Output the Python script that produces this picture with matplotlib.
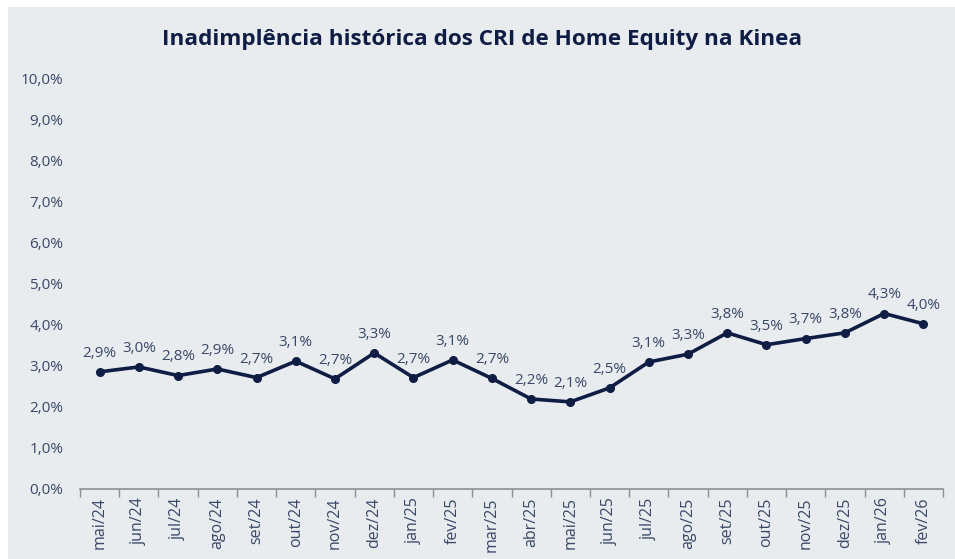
import matplotlib
matplotlib.use("Agg")
import matplotlib.pyplot as plt
from matplotlib.patches import Rectangle
import numpy as np

categories = ["mai/24", "jun/24", "jul/24", "ago/24", "set/24", "out/24", "nov/24", "dez/24",
              "jan/25", "fev/25", "mar/25", "abr/25", "mai/25", "jun/25", "jul/25", "ago/25",
              "set/25", "out/25", "nov/25", "dez/25", "jan/26", "fev/26"]
values = [2.85, 2.97, 2.76, 2.92, 2.71, 3.11, 2.68, 3.31, 2.71, 3.14, 2.69, 2.19, 2.12, 2.46,
          3.09, 3.28, 3.80, 3.51, 3.66, 3.80, 4.27, 4.02]
labels = ["2,9%", "3,0%", "2,8%", "2,9%", "2,7%", "3,1%", "2,7%", "3,3%", "2,7%", "3,1%", "2,7%",
          "2,2%", "2,1%", "2,5%", "3,1%", "3,3%", "3,8%", "3,5%", "3,7%", "3,8%", "4,3%", "4,0%"]
yticks = [0, 1, 2, 3, 4, 5, 6, 7, 8, 9, 10]
ytick_labels = ["0,0%", "1,0%", "2,0%", "3,0%", "4,0%", "5,0%", "6,0%", "7,0%", "8,0%", "9,0%", "10,0%"]
title = "Inadimplência histórica dos CRI de Home Equity na Kinea"

plt.rcParams['font.family'] = ['Open Sans', 'DejaVu Sans']
BG = "#e8ecef"
NAVY = "#0f1d45"
TXT = "#3a4767"

fig = plt.figure(figsize=(9.55, 5.59), dpi=100)
fig.patch.set_facecolor("white")
fig.patches.append(Rectangle((8 / 955, 0), 1 - 8 / 955, 1 - 7 / 559, transform=fig.transFigure,
                             facecolor=BG, edgecolor="none", zorder=-10))

ax = fig.add_axes([80 / 955, 70 / 559, 863 / 955, 411 / 559])
ax.set_facecolor("none")
x = np.arange(len(categories))
ax.plot(x, values, color=NAVY, lw=2.6, marker="o", ms=5.5, zorder=3)
for xi, v, lab in zip(x, values, labels):
    ax.annotate(lab, (xi, v), xytext=(0, 8), textcoords="offset points", ha="center",
                va="bottom", fontsize=11, color=TXT)

ax.set_xlim(-0.5, len(categories) - 0.5)
ax.set_ylim(0, 10)
ax.set_yticks(yticks)
ax.set_yticklabels(ytick_labels, fontsize=11, color=TXT)
ax.tick_params(axis="y", length=0, pad=12)
ax.set_xticks(x)
ax.set_xticklabels(categories, rotation=90, fontsize=11.5, color=TXT, va="top", ha="center")
ax.set_xticks(np.arange(-0.5, len(categories)), minor=True)
ax.tick_params(axis="x", which="major", length=0, pad=6)
ax.tick_params(axis="x", which="minor", length=6, color="#8a8f96", width=1)
for s in ["top", "right", "left"]:
    ax.spines[s].set_visible(False)
ax.spines["bottom"].set_color("#8a8f96")
ax.spines["bottom"].set_linewidth(1.2)

fig.text(0.5 + 5 / 955, 1 - 40 / 559, title, ha="center", va="center", fontsize=16.2,
         fontweight="bold", color=NAVY)

fig.savefig("out.png", dpi=100, facecolor=fig.get_facecolor())
